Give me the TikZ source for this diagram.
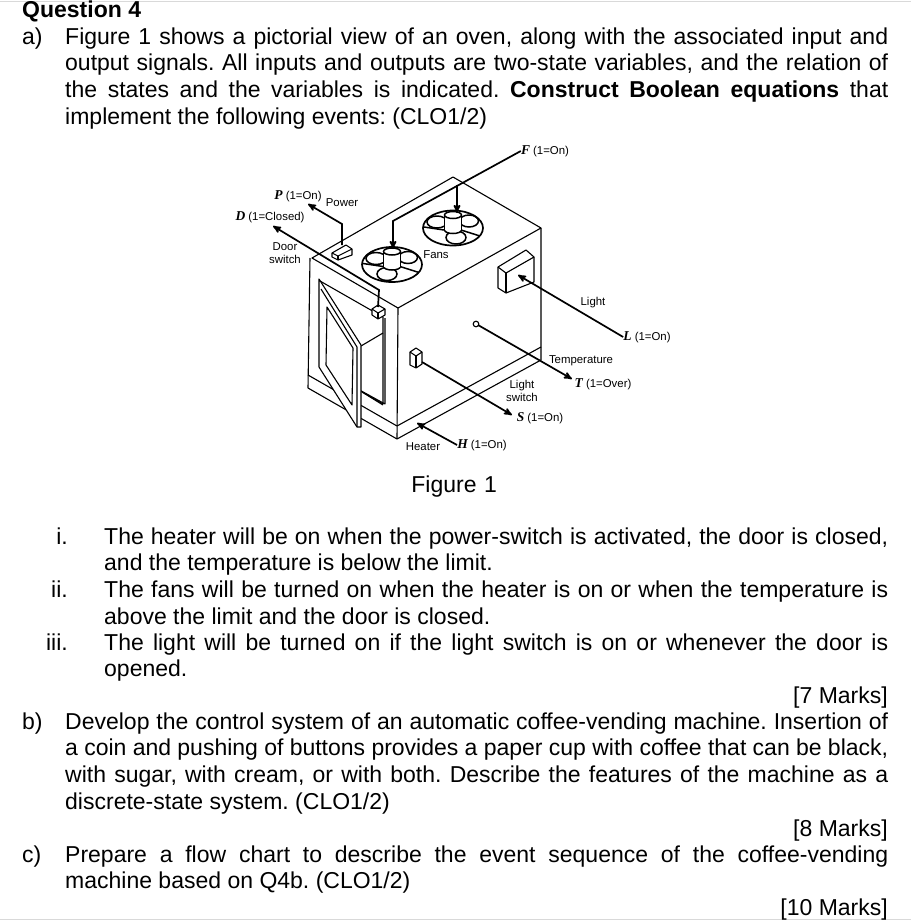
\documentclass[tikz,border=0pt]{standalone}
\usepackage{fontspec}
\setmainfont{Liberation Sans}
\newfontfamily\varfont{Liberation Serif}
\newcommand{\var}[1]{{\varfont\fontsize{13.5}{13.5}\selectfont\bfseries\itshape #1}}
\usetikzlibrary{arrows}

\begin{document}
\begin{tikzpicture}[x=1pt, y=-1pt, >=stealth',
  para/.style = {anchor=north west, inner sep=0pt, align=justify, font=\fontsize{23}{26.6}\selectfont},
  marks/.style = {anchor=base east, inner sep=0pt, font=\fontsize{23}{26.6}\selectfont},
  tag/.style = {inner sep=0pt, align=center, font=\fontsize{11.4}{13.5}\selectfont},
  wire/.style = {line width=1.7pt},
  body/.style = {line width=1.1pt, line join=round},
  blade/.style = {line width=1.5pt}]
\useasboundingbox (0,0) rectangle (911,922);
\hyphenpenalty=10000
\frenchspacing
\draw[black!15, line width=1pt] (0,1) -- (911,1);
\draw[black!15, line width=1pt] (0,919) -- (911,919);
% text
\node[para, text width=300pt] (title) at (22,-1.5) {\strut\textbf{Question 4}};
\node[para, text width=40pt] (parta) at (22,25.5) {\strut a)};
\node[para, text width=823pt] (texta) at (65,25.5) {\strut Figure 1 shows a pictorial view of an oven, along with the associated input and\linebreak
output signals. All inputs and outputs are two-state variables, and the relation of\linebreak
the states and the variables is indicated. \textbf{Construct Boolean equations} that\linebreak
implement the following events: (CLO1/2)};
\node[para, text width=200pt, align=center] (figcap) at (354,473.5) {\strut Figure 1};
\node[para, anchor=north east] (numi) at (68,525.5) {\strut i.};
\node[para, text width=784pt] (itemi) at (104,525.5) {\strut The heater will be on when the power-switch is activated, the door is closed,\linebreak
and the temperature is below the limit.};
\node[para, anchor=north east] (numii) at (68,579) {\strut ii.};
\node[para, text width=784pt] (itemii) at (104,579) {\strut The fans will be turned on when the heater is on or when the temperature is\linebreak
above the limit and the door is closed.};
\node[para, anchor=north east] (numiii) at (68,631.5) {\strut iii.};
\node[para, text width=784pt] (itemiii) at (104,631.5) {\strut The light will be turned on if the light switch is on or whenever the door is\linebreak
opened.};
\node[marks] (marka) at (888,703) {[7 Marks]};
\node[para, text width=40pt] (partb) at (22,710.5) {\strut b)};
\node[para, text width=823pt] (textb) at (65,710.5) {\strut Develop the control system of an automatic coffee-vending machine. Insertion of\linebreak
a coin and pushing of buttons provides a paper cup with coffee that can be black,\linebreak
with sugar, with cream, or with both. Describe the features of the machine as a\linebreak
discrete-state system. (CLO1/2)};
\node[marks] (markb) at (888,836) {[8 Marks]};
\node[para, text width=40pt] (partc) at (22,843.5) {\strut c)};
\node[para, text width=823pt] (textc) at (65,843.5) {\strut Prepare a flow chart to describe the event sequence of the coffee-vending\linebreak
machine based on Q4b. (CLO1/2)};
\node[marks] (markc) at (888,915) {[10 Marks]};
% oven body
\draw[body] (312,258) -- (453,177) -- (541,228) -- (398,308) -- cycle;
\draw[body] (310,258) -- (308,388) -- (397,439) -- (541,360) -- (541,228);
\draw[body] (398,308) -- (397,439);
\draw[body] (308,375) -- (397,426) -- (541,347);
% door opening
\draw[body] (320,281) -- (383,317) -- (383,404) -- (345,382);
\draw[body] (385,318) -- (385,404) -- (345,382);
\draw[body] (362,392) -- (383,405);
\draw[body] (361,346) -- (383,333);
% door
\draw[body, fill=white] (319,279) -- (319,367) -- (357,427) -- (361,427) -- (361,345) -- cycle;
\draw[body] (357,427) -- (357,347) -- (321,289);
\draw[body, fill=white] (327,307) -- (353,348) -- (352,405) -- (326,365) -- cycle;
% fans
\foreach \cx/\cy/\bx in {392/264.5/-5, 453/228/3} {
  \draw[line width=1.7pt, fill=white] (\cx,\cy) ellipse [x radius=30, y radius=17.5];
  \draw[blade] (\cx+\bx,\cy+9.5) ellipse [x radius=10, y radius=6.5];
  \draw[blade] (\cx-16,\cy-6) ellipse [x radius=10, y radius=6];
  \draw[blade] (\cx+16,\cy-7) ellipse [x radius=9.5, y radius=6];
  \draw[blade] (\cx-29,\cy-1) -- (\cx-9,\cy+2);
  \draw[blade] (\cx+8,\cy+2) -- (\cx+27,\cy+8);
  \draw[blade, fill=white] (\cx,\cy+2) ellipse [x radius=8.5, y radius=3.5];
  \fill[white] (\cx-8.5,\cy-13) rectangle (\cx+8.5,\cy+2);
  \draw[blade] (\cx-8.5,\cy-13) -- (\cx-8.5,\cy+2);
  \draw[blade] (\cx+8.5,\cy-13) -- (\cx+8.5,\cy+2);
  \draw[blade, fill=white] (\cx,\cy-13) ellipse [x radius=8.5, y radius=3.5];
}
% switches and light
\draw[body, fill=white] (332,253) -- (346,245) -- (352,249) -- (352,255) -- (338,260) -- (332,257) -- cycle;
\draw[body] (332,253) -- (338,256) -- (352,249);
\draw[body] (338,256) -- (338,260);
\draw[body, fill=white] (372,309) -- (378,305) -- (385,309) -- (385,315) -- (378,319) -- (372,315) -- cycle;
\draw[body] (372,309) -- (378,313) -- (385,309);
\draw[body] (378,313) -- (378,319);
\draw[body, fill=white] (498,267) -- (526,250) -- (534,257) -- (534,282) -- (506,293) -- (498,288) -- cycle;
\draw[body] (498,267) -- (506,273) -- (534,257);
\draw[body] (506,273) -- (506,293);
\draw[body, fill=white] (410,352) -- (416,348) -- (422,352) -- (422,364) -- (416,368) -- (410,365) -- cycle;
\draw[body] (410,352) -- (416,356) -- (422,352);
\draw[body] (416,356) -- (416,368);
\draw[body, fill=white] (476,324) circle (2.8);
% labels
\node[tag] (p) at (298,196) {\var{P} (1=On)};
\node[tag] (power) at (342,203) {Power};
\node[tag] (d) at (270,217) {\var{D} (1=Closed)};
\node[tag] (door) at (285,253) {Door\\switch};
\node[tag] (fans) at (436,255) {Fans};
\node[tag] (f) at (545,151) {\var{F} (1=On)};
\node[tag] (light) at (593,303) {Light};
\node[tag] (l) at (647,337) {\var{L} (1=On)};
\node[tag] (temp) at (581,361) {Temperature};
\node[tag] (t) at (603,384) {\var{T} (1=Over)};
\node[tag] (lsw) at (522,391) {Light\\switch};
\node[tag] (s) at (540,418) {\var{S} (1=On)};
\node[tag] (heater) at (423,447) {Heater};
\node[tag] (h) at (482,445) {\var{H} (1=On)};
% wires
\coordinate (pa) at (342,245); \coordinate (pb) at (342,224); \coordinate (pc) at (308,204);
\coordinate (da) at (378,307); \coordinate (db) at (379,290); \coordinate (dc) at (273,226);
\coordinate (fa) at (393,221); \coordinate (fb) at (393,249); \coordinate (fc) at (457,185); \coordinate (fd) at (457,213);
\coordinate (la) at (518,275); \coordinate (ta) at (478,325); \coordinate (tb) at (572,379);
\coordinate (sa) at (422,362); \coordinate (sb) at (512,415); \coordinate (ha) at (417,423);
\draw[wire, ->] (pa) -- (pb) -- (pc);
\draw[wire, ->] (da) -- (db) -- (dc);
\draw[wire, ->] (f.west) -- (fa) -- (fb);
\draw[wire, ->] (fc) -- (fd);
\draw[wire, ->] (l.west) -- (la);
\draw[wire, ->] (ta) -- (tb);
\draw[wire, ->] (sa) -- (sb);
\draw[wire, ->] (h.west) -- (ha);
\end{tikzpicture}
\end{document}
